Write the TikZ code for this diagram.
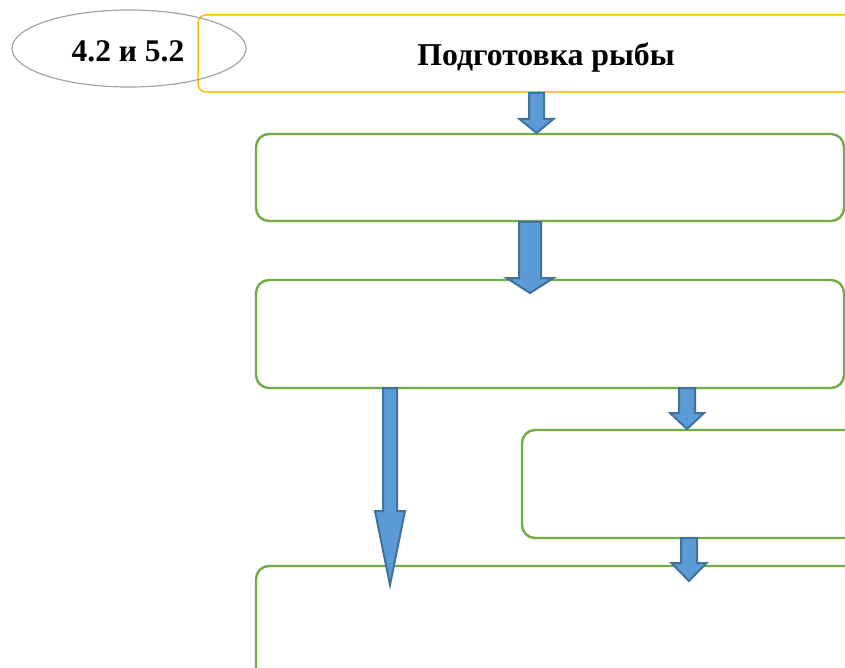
\documentclass[tikz,border=0pt]{standalone}
\usepackage{fontspec}
\setmainfont{Liberation Serif}
\definecolor{boxgreen}{HTML}{70AD47}
\definecolor{boxyellow}{HTML}{FFC000}
\definecolor{ellgray}{HTML}{A5A5A5}
\definecolor{arrfill}{HTML}{5B9BD5}
\definecolor{arrline}{HTML}{41719C}
\tikzset{
  greenbox/.style={draw=boxgreen, line width=2.4pt, rounded corners=13pt, fill=white},
  yellowbox/.style={draw=boxyellow, line width=1.5pt, rounded corners=8pt},
  labelell/.style={draw=ellgray, line width=1.2pt},
  blockarr/.style={fill=arrfill, draw=arrline, line width=2pt, line join=miter},
  boldtext/.style={font=\bfseries\fontsize{31.8}{34}\selectfont, inner sep=0pt}
}
% \barrow{cx}{top}{headstart}{tip}{halfshaft}{halfhead}
\newcommand{\barrow}[6]{%
  \draw[blockarr] (#1-#5,#2) -- (#1+#5,#2) -- (#1+#5,#3) -- (#1+#6,#3) -- (#1,#4)
    -- (#1-#6,#3) -- (#1-#5,#3) -- cycle;}
\begin{document}
\begin{tikzpicture}[x=1pt,y=-1pt]
\useasboundingbox (0,0) rectangle (845,668);
\clip (0,0) rectangle (845,668);
% top yellow box
\draw[yellowbox] (198,15) rectangle (870,92);
\node[boldtext] (title) at (546,58) {Подготовка рыбы};
% ellipse label
\draw[labelell] (129,48.5) ellipse [x radius=117, y radius=38.5];
\node[boldtext, font=\bfseries\fontsize{31.5}{34}\selectfont] (lbl) at (128,51) {4.2 и 5.2};
% green boxes
\draw[greenbox] (256,134) rectangle (844,221);
\draw[greenbox] (256,280) rectangle (844,388);
\draw[greenbox] (522,430) rectangle (880,538);
\draw[greenbox] (256,566) rectangle (880,690);
% block arrows
\barrow{536.5}{93}{119}{133}{7.5}{17}
\barrow{530}{222}{278}{293}{11}{23.5}
\barrow{390}{388}{511}{585}{7}{15}
\barrow{687}{388}{413}{429}{8}{17}
\barrow{689}{538}{563}{581}{8}{17.5}
\end{tikzpicture}
\end{document}
